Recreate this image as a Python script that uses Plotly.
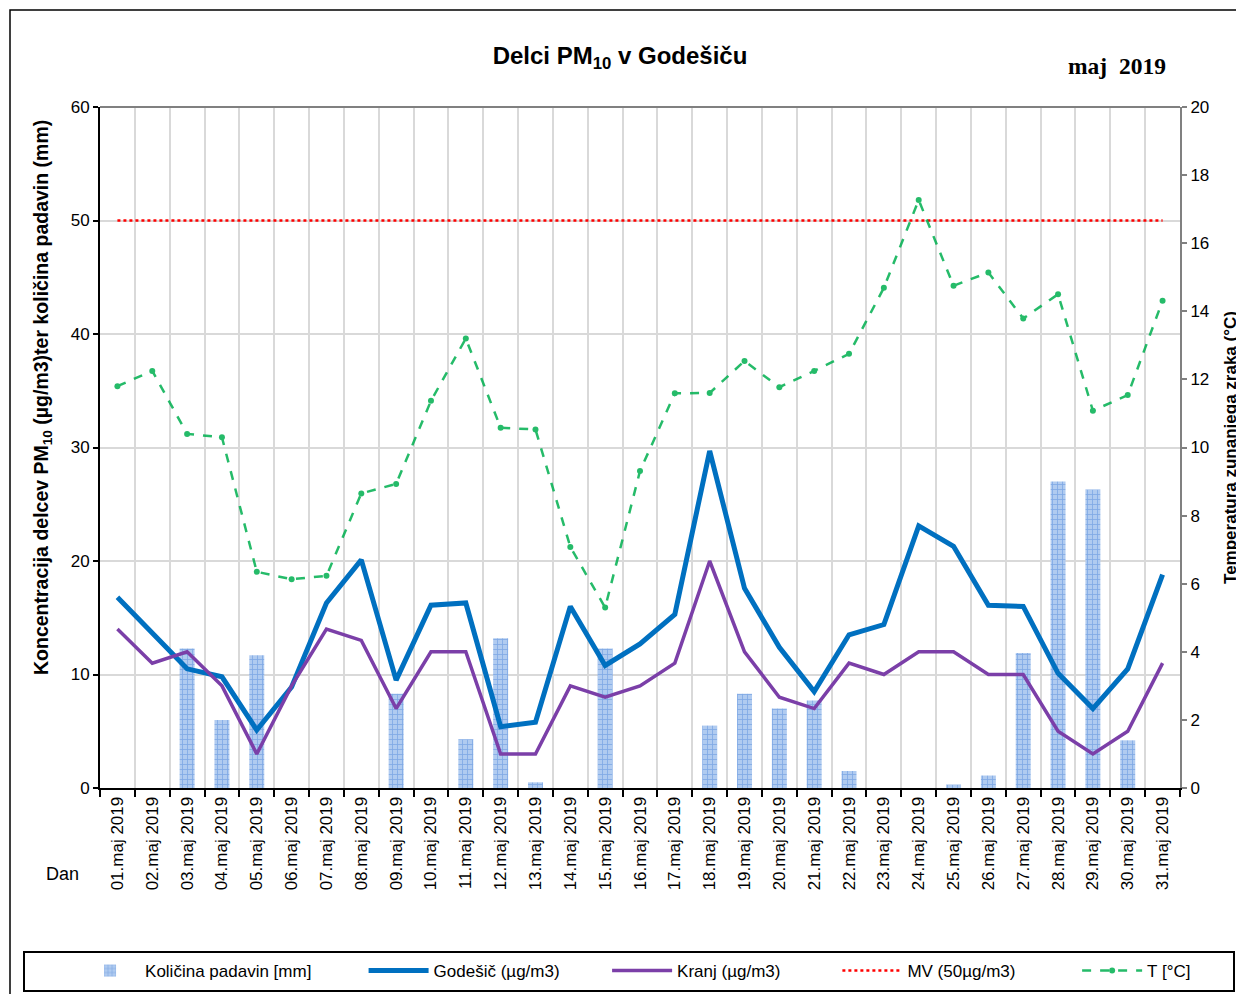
import plotly.graph_objects as go

days = [f"{d:02d}.maj 2019" for d in range(1, 32)]

padavine = [0, 0, 12.3, 6.0, 11.7, 0, 0, 0, 8.3, 0, 4.3, 13.2, 0.5, 0, 12.3, 0,
            0, 5.5, 8.3, 7.0, 7.7, 1.5, 0, 0, 0.3, 1.1, 11.9, 27.0, 26.3, 4.2, 0]
godesic = [16.8, 13.7, 10.5, 9.8, 5.1, 8.9, 16.3, 20.1, 9.5, 16.1, 16.3, 5.4, 5.8,
           16.0, 10.8, 12.7, 15.3, 29.7, 17.6, 12.4, 8.5, 13.5, 14.4, 23.1, 21.3,
           16.1, 16.0, 10.1, 7.0, 10.5, 18.8]
kranj = [14, 11, 12, 9, 3, 9, 14, 13, 7, 12, 12, 3, 3, 9, 8, 9, 11, 20, 12, 8, 7,
         11, 10, 12, 12, 10, 10, 5, 3, 5, 11]
temperatura = [11.8, 12.25, 10.4, 10.3, 6.35, 6.13, 6.23, 8.65, 8.93, 11.37, 13.2,
               10.58, 10.53, 7.08, 5.3, 9.31, 11.59, 11.6, 12.54, 11.77, 12.25,
               12.75, 14.69, 17.27, 14.75, 15.14, 13.79, 14.5, 11.08, 11.54, 14.31]
mv_limit = 50

NARROW = "Liberation Sans Narrow, Arial Narrow, Liberation Sans, Arial, sans-serif"
SANS = "Liberation Sans, Arial, sans-serif"

# page body has an 8px margin: figure px = screen px - 8
OFF = 8
NB = "\u00a0"  # spacing after legend labels

fig = go.Figure()

fig.add_trace(go.Bar(
    x=days, y=padavine, name="Količina padavin [mm]" + NB * 10,
    width=0.43,
    marker=dict(color="#b0cbf0", line=dict(width=0),
                pattern=dict(shape="+", fgcolor="#4f86d9", size=5, solidity=0.3,
                             fillmode="overlay")),
))
fig.add_trace(go.Scatter(
    x=days, y=godesic, name="Godešič (µg/m3)" + NB * 9, mode="lines",
    line=dict(color="#0070C0", width=5),
))
fig.add_trace(go.Scatter(
    x=days, y=kranj, name="Kranj (µg/m3)" + NB * 11, mode="lines",
    line=dict(color="#7B3FA8", width=3.5),
))
fig.add_trace(go.Scatter(
    x=days, y=[mv_limit] * len(days), name="MV (50µg/m3)" + NB * 12, mode="lines",
    line=dict(color="#FF0000", width=2.5, dash="dot"),
))
fig.add_trace(go.Scatter(
    x=days, y=temperatura, name="T [°C]", mode="lines+markers", yaxis="y2",
    line=dict(color="#00B050", width=2.5, dash="dash"),
    marker=dict(symbol="circle", size=6, color="#00B050"),
    opacity=0.85,
))

fig.update_layout(
    width=1244, height=994,
    margin=dict(l=100 - OFF, r=1244 - (1180 - OFF), t=107 - OFF, b=994 - (788 - OFF)),
    paper_bgcolor="white", plot_bgcolor="white",
    font=dict(family=SANS, size=15, color="black"),
    showlegend=True,
    bargap=0.5,
    title=dict(text="<b>Delci PM<sub>10</sub> v Godešiču</b>",
               x=(620 - OFF) / 1244, xref="container", xanchor="center",
               y=1 - (56 - OFF) / 994, yref="container", yanchor="middle",
               font=dict(family=NARROW, size=24, color="black")),
    xaxis=dict(
        type="category", range=[-0.5, 30.5],
        tickson="boundaries", ticks="outside", ticklen=7, tickwidth=2, tickcolor="black",
        showline=True, linecolor="black", linewidth=2,
        showgrid=True, gridcolor="#d9d9d9", gridwidth=1.5,
        tickangle=-90, tickfont=dict(family=SANS, size=17),
        zeroline=False,
    ),
    yaxis=dict(
        range=[0, 60], dtick=10,
        ticks="outside", ticklen=5, tickwidth=2, tickcolor="black",
        showline=True, linecolor="black", linewidth=2,
        showgrid=True, gridcolor="#d9d9d9", gridwidth=1.5,
        zeroline=False,
        tickfont=dict(family=NARROW, size=17),
    ),
    yaxis2=dict(
        range=[0, 20], dtick=2, overlaying="y", side="right",
        ticks="outside", ticklen=5, tickwidth=2, tickcolor="#808080",
        showline=True, linecolor="#808080", linewidth=2,
        showgrid=False, zeroline=False,
        tickfont=dict(family=NARROW, size=17),
        title=dict(text="<b>Temperatura zunanjega zraka (°C)</b>",
                   font=dict(family=NARROW, size=17), standoff=16),
    ),
    legend=dict(
        orientation="h", x=-0.0231, xanchor="left",
        y=(788 - 971) / 681, yanchor="middle", yref="paper",
        font=dict(family=NARROW, size=17),
        itemwidth=60,
        bgcolor="rgba(0,0,0,0)",
    ),
    shapes=[
        dict(type="line", xref="paper", yref="paper", x0=0, x1=1, y0=1, y1=1,
             line=dict(color="#808080", width=2)),
        dict(type="rect", xref="paper", yref="paper",
             x0=(10 - 100) / 1080, x1=(1238 - 100) / 1080,
             y0=(788 - 1010) / 681, y1=(788 - 10) / 681,
             line=dict(color="black", width=1.5), layer="below"),
        dict(type="rect", xref="paper", yref="paper",
             x0=(24 - 100) / 1080, x1=(1234 - 100) / 1080,
             y0=(788 - 991) / 681, y1=(788 - 952) / 681,
             line=dict(color="black", width=2), layer="below"),
    ],
    annotations=[
        dict(text="<b>Koncentracija delcev PM<sub>10</sub> (µg/m3)ter količina padavin (mm)</b>",
             xref="paper", yref="paper", textangle=-90,
             x=(42 - 100) / 1080, y=(788 - 398) / 681, showarrow=False,
             xanchor="center", yanchor="middle",
             font=dict(family=NARROW, size=19.5)),
        dict(text="<b>maj  2019</b>", xref="paper", yref="paper",
             x=(1117 - 100) / 1080, y=(788 - 66) / 681, showarrow=False,
             xanchor="center", yanchor="middle",
             font=dict(family="Liberation Serif, Times New Roman, serif", size=23.5)),
        dict(text="Dan", xref="paper", yref="paper",
             x=(62 - 100) / 1080, y=(788 - 874) / 681, showarrow=False,
             xanchor="center", yanchor="middle",
             font=dict(family=NARROW, size=18)),
    ],
)

fig.write_html("out.html")
